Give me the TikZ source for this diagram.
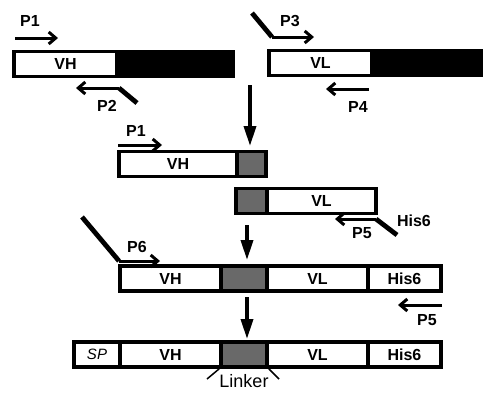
\documentclass[tikz,border=0pt]{standalone}
\usepackage{fontspec}
\setmainfont{Liberation Sans}
\usetikzlibrary{arrows.meta}
\definecolor{lnk}{RGB}{105,105,105}
\tikzset{
  seg/.style={draw=black, line width=3.6pt, fill=white, minimum height=25pt, inner sep=0pt,
    font=\bfseries\fontsize{16}{16}\selectfont},
  lbl/.style={inner sep=0pt, font=\bfseries\fontsize{16}{16}\selectfont},
  primer/.style={line width=3pt, -{Straight Barb[length=7pt,width=12pt,line width=3pt]}},
  tail/.style={line width=4.8pt, line cap=butt},
  down/.style={line width=3.4pt, -{Triangle[length=20pt,width=12pt]}},
}
\begin{document}
\begin{tikzpicture}[x=1pt,y=-1pt]
\useasboundingbox (0,0) rectangle (483,392);
% ---- row 1 left
\node[seg, minimum width=103pt] (vh1) at (65.5,64) {VH};
\node[seg, fill=black, minimum width=116pt] (bk1) at (175,64) {};
% ---- row 1 right
\node[seg, minimum width=103pt] (vl1) at (320.5,63) {VL};
\node[seg, fill=black, minimum width=116pt] (bk2) at (430,63) {};
% primers row 1
\coordinate (p1a) at (15,38); \coordinate (p1b) at (58,38);
\draw[primer] (p1a) -- (p1b);
\node[lbl] (p1) at (30,21) {P1};
\coordinate (p2t) at (137,103); \coordinate (p2k) at (119,88); \coordinate (p2e) at (76,88);
\draw[tail] (p2t) -- (p2k);
\draw[primer] (p2k) -- (p2e);
\node[lbl] (p2) at (107,106) {P2};
\coordinate (p3t) at (252,13); \coordinate (p3k) at (272,37); \coordinate (p3e) at (314,37);
\draw[tail] (p3t) -- (p3k);
\draw[primer] (p3k) -- (p3e);
\node[lbl] (p3) at (290,21) {P3};
\coordinate (p4a) at (369,89); \coordinate (p4b) at (326,89);
\draw[primer] (p4a) -- (p4b);
\node[lbl] (p4) at (358,107) {P4};
% down arrow 1
\coordinate (d1a) at (250,85); \coordinate (d1b) at (250,146);
\draw[down] (d1a) -- (d1b);
% ---- row 2
\node[seg, minimum width=118pt] (vh2) at (178,164) {VH};
\node[seg, fill=lnk, minimum width=29pt] (g2) at (251.5,164) {};
\coordinate (q1a) at (118,145); \coordinate (q1b) at (162,145);
\draw[primer] (q1a) -- (q1b);
\node[lbl] (p1b2) at (136,131) {P1};
% ---- row 3
\node[seg, fill=lnk, minimum width=31pt] (g3) at (251.5,201) {};
\node[seg, minimum width=109pt] (vl3) at (321.5,201) {VL};
\coordinate (p5t) at (397,235); \coordinate (p5k) at (376,219); \coordinate (p5e) at (335,219);
\draw[tail] (p5t) -- (p5k);
\draw[primer] (p5k) -- (p5e);
\node[lbl] (p5) at (362,233) {P5};
\node[lbl] (h6a) at (414,221) {His6};
% down arrow 2
\coordinate (d2a) at (247,225); \coordinate (d2b) at (247,260);
\draw[down] (d2a) -- (d2b);
% ---- row 4
\node[seg, minimum width=101pt] (vh4) at (170.5,278.5) {VH};
\node[seg, fill=lnk, minimum width=46pt] (g4) at (244,278.5) {};
\node[seg, minimum width=101pt] (vl4) at (317.5,278.5) {VL};
\node[seg, minimum width=73pt] (hs4) at (404.5,278.5) {His6};
\coordinate (p6t) at (82,217); \coordinate (p6k) at (119,261); \coordinate (p6e) at (160,261);
\draw[tail] (p6t) -- (p6k);
\draw[primer] (p6k) -- (p6e);
\node[lbl] (p6) at (137,247) {P6};
\coordinate (p5c) at (442,305); \coordinate (p5d) at (398,305);
\draw[primer] (p5c) -- (p5d);
\node[lbl] (p5b) at (427,320) {P5};
% down arrow 3
\coordinate (d3a) at (247,297); \coordinate (d3b) at (247,339);
\draw[down] (d3a) -- (d3b);
% ---- row 5
\node[seg, minimum width=46pt, font=\itshape\fontsize{15}{15}\selectfont] (sp5) at (97,354.5) {SP};
\node[seg, minimum width=101pt] (vh5) at (170.5,354.5) {VH};
\node[seg, fill=lnk, minimum width=46pt] (g5) at (244,354.5) {};
\node[seg, minimum width=101pt] (vl5) at (317.5,354.5) {VL};
\node[seg, minimum width=73pt] (hs5) at (404.5,354.5) {His6};
\coordinate (lk1) at (207,379); \coordinate (lk2) at (279,379);
\draw[line width=1.5pt] (g5.south west) -- (lk1);
\draw[line width=1.5pt] (g5.south east) -- (lk2);
\node[inner sep=0pt, anchor=base, font=\fontsize{18}{18}\selectfont] (lnk) at (244,387.5) {Linker};
\end{tikzpicture}
\end{document}
